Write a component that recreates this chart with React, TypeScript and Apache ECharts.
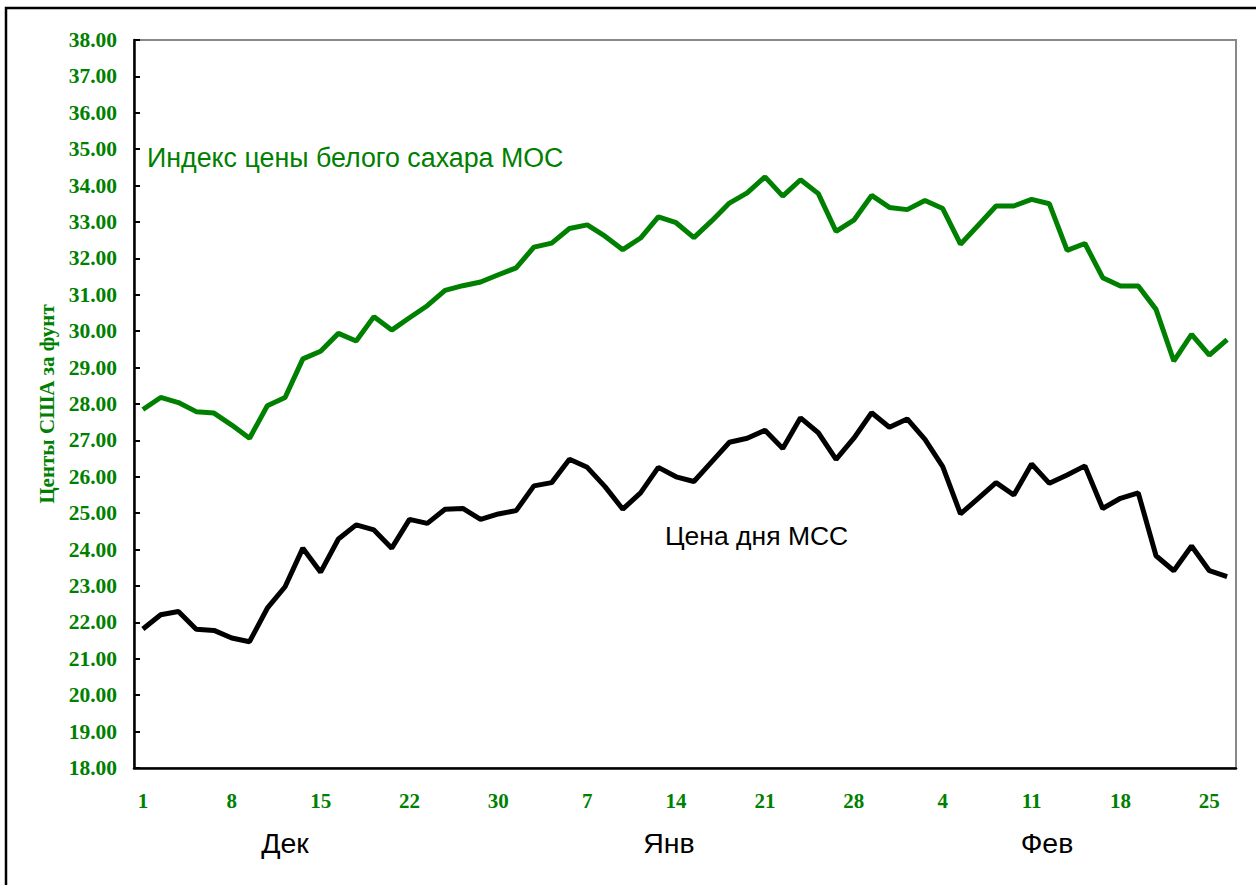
import React, { useEffect, useRef } from "react";
import * as echarts from "echarts";

const tickLabels = ["1", "8", "15", "22", "30", "7", "14", "21", "28", "4", "11", "18", "25"];
const monthLabels = ["Дек", "Янв", "Фев"];

const isoIndex = [
  27.85, 28.18, 28.04, 27.79, 27.75, 27.42, 27.06, 27.95, 28.18, 29.24,
  29.45, 29.94, 29.73, 30.40, 30.03, 30.37, 30.70, 31.12, 31.25, 31.35,
  31.55, 31.74, 32.31, 32.42, 32.82, 32.92, 32.61, 32.24, 32.56, 33.14,
  32.98, 32.57, 33.03, 33.52, 33.80, 34.24, 33.71, 34.16, 33.78, 32.74,
  33.05, 33.73, 33.40, 33.34, 33.59, 33.37, 32.39, 32.91, 33.44, 33.44,
  33.62, 33.50, 32.22, 32.41, 31.47, 31.24, 31.24, 30.60, 29.18, 29.91,
  29.34, 29.77,
];

const mccDaily = [
  21.82, 22.21, 22.30, 21.81, 21.78, 21.57, 21.47, 22.39, 22.98, 24.04,
  23.38, 24.29, 24.68, 24.54, 24.04, 24.83, 24.72, 25.11, 25.13, 24.83,
  24.98, 25.07, 25.75, 25.84, 26.48, 26.26, 25.73, 25.11, 25.56, 26.26,
  26.00, 25.87, 26.41, 26.95, 27.06, 27.28, 26.78, 27.62, 27.21, 26.48,
  27.06, 27.76, 27.36, 27.59, 27.03, 26.28, 24.98, 25.41, 25.84, 25.50,
  26.35, 25.82, 26.05, 26.30, 25.13, 25.41, 25.56, 23.83, 23.42, 24.10,
  23.42, 23.26,
];

const categories = isoIndex.map((_, i) => String(i));

const GREEN = "#008000";
const SERIF = "'Liberation Serif', 'Times New Roman', serif";
const SANS = "'Liberation Sans', Arial, sans-serif";

export default function App() {
  const ref = useRef<HTMLDivElement>(null);
  useEffect(() => {
    if (!ref.current) return;
    const chart = echarts.init(ref.current, null, { renderer: "svg" });
    chart.setOption({
      animation: false,
      backgroundColor: "#fff",
      grid: {
        left: 134,
        top: 40,
        right: 20,
        bottom: 117,
        show: true,
        borderColor: "#888",
        borderWidth: 2,
        backgroundColor: "#fff",
      },
      xAxis: {
        type: "category",
        data: categories,
        boundaryGap: true,
        axisLine: { lineStyle: { color: "#000", width: 2.5 } },
        axisTick: { inside: true, length: 6, interval: 0, lineStyle: { color: "#000", width: 2 } },
        axisLabel: {
          interval: 4,
          margin: 22,
          color: GREEN,
          fontFamily: SERIF,
          fontWeight: "bold",
          fontSize: 21,
          formatter: (v: string) => {
            const i = Number(v);
            return i % 5 === 0 ? tickLabels[i / 5] ?? "" : "";
          },
        },
        splitLine: { show: false },
      },
      yAxis: {
        type: "value",
        min: 18,
        max: 38,
        interval: 1,
        name: "Центы США за фунт",
        nameLocation: "middle",
        nameRotate: 90,
        nameGap: 76,
        nameTextStyle: { color: GREEN, fontFamily: SERIF, fontWeight: "bold", fontSize: 21 },
        axisLine: { show: true, lineStyle: { color: "#000", width: 2.5 } },
        axisTick: { show: true, inside: true, length: 6, lineStyle: { color: "#000", width: 2 } },
        axisLabel: {
          margin: 17,
          color: GREEN,
          fontFamily: SERIF,
          fontWeight: "bold",
          fontSize: 21.5,
          formatter: (v: number) => v.toFixed(2),
        },
        splitLine: { show: false },
      },
      series: [
        {
          type: "line",
          data: isoIndex,
          symbol: "none",
          lineStyle: { color: GREEN, width: 5 },
          itemStyle: { color: GREEN },
        },
        {
          type: "line",
          data: mccDaily,
          symbol: "none",
          lineStyle: { color: "#000", width: 5 },
          itemStyle: { color: "#000" },
        },
      ],
      graphic: [
        {
          type: "rect",
          shape: { x: 6, y: 8, width: 1400, height: 1000 },
          style: { fill: "none", stroke: "#000", lineWidth: 2.5 },
          silent: true,
        },
        {
          type: "text",
          x: 147,
          y: 158,
          style: {
            text: "Индекс цены белого сахара МОС",
            fill: GREEN,
            font: `26.8px ${SANS}`,
            textAlign: "left",
            textVerticalAlign: "middle",
          },
        },
        {
          type: "text",
          x: 665,
          y: 536,
          style: {
            text: "Цена дня МСС",
            fill: "#000",
            font: `26.5px ${SANS}`,
            textAlign: "left",
            textVerticalAlign: "middle",
          },
        },
        ...[285, 669, 1047].map((x, k) => ({
          type: "text",
          x,
          y: 843,
          style: {
            text: monthLabels[k],
            fill: "#000",
            font: `28.5px ${SANS}`,
            textAlign: "center",
            textVerticalAlign: "middle",
          },
        })),
      ],
    });
    return () => chart.dispose();
  }, []);
  return (
    <div
      ref={ref}
      style={{ position: "fixed", left: 0, top: 0, width: 1256, height: 885 }}
    />
  );
}
